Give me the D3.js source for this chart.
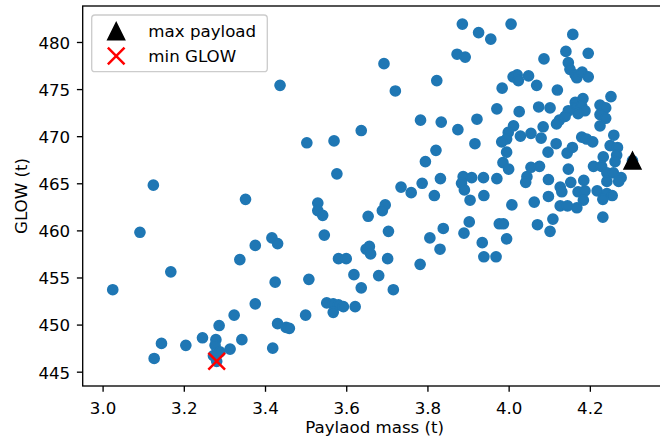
<!DOCTYPE html>
<html>
<head>
<meta charset="utf-8">
<script src="https://cdn.jsdelivr.net/npm/d3@7"></script>
<style>
  html, body { margin: 0; padding: 0; background: #fff; }
  svg { display: block; font-family: "DejaVu Sans", sans-serif; }
</style>
</head>
<body>
<svg id="chart" width="660" height="442"></svg>
<script>
// ---- data ----
const payload = [
  3.886, 3.926, 3.956, 4.006, 4.158, 4.141, 4.196, 4.087, 3.873, 3.893,
  3.693, 3.823, 3.721, 4.147, 4.151, 4.164, 4.168, 4.181, 4.196, 4.011,
  4.021, 4.024, 4.049, 4.069, 3.984, 4.120, 4.252, 3.437, 3.971, 4.026,
  4.074, 4.102, 4.164, 4.183, 4.164, 4.180, 4.188, 4.171, 4.147, 4.139,
  4.125, 4.118, 4.225, 4.239, 4.225, 4.239, 4.225, 3.783, 3.834, 3.922,
  3.875, 3.637, 3.570, 3.503, 3.917, 3.821, 3.795, 4.012, 3.999, 3.995,
  3.983, 4.029, 4.055, 4.085, 4.080, 4.117, 4.097, 4.144, 4.157, 4.180,
  4.192, 4.207, 4.259, 4.250, 4.268, 4.266, 4.262, 4.233, 3.995, 3.986,
  4.000, 4.055, 4.076, 4.147, 4.209, 4.229, 4.242, 4.258, 4.277, 4.242,
  4.271, 4.045, 4.042, 4.098, 4.153, 4.185, 4.127, 4.131, 4.098, 4.171,
  4.188, 4.218, 4.242, 4.255, 4.184, 4.232, 4.127, 4.145, 4.168, 4.063,
  4.008, 4.232, 4.109, 4.102, 4.071, 3.977, 3.987, 3.995, 3.935, 3.939,
  3.969, 3.903, 3.890, 3.839, 3.806, 3.831, 3.782, 3.888, 3.909, 3.938,
  3.971, 3.884, 3.891, 3.905, 3.939, 3.832, 3.787, 3.735, 3.760, 3.817,
  3.696, 3.689, 3.654, 3.577, 3.530, 3.530, 3.542, 3.352, 3.125, 3.704,
  3.546, 3.417, 3.431, 3.092, 3.025, 3.168, 3.338, 3.376, 3.425, 3.508,
  3.581, 3.600, 3.649, 3.657, 3.660, 3.702, 3.619, 3.680, 3.637, 3.716,
  3.552, 3.568, 3.581, 3.593, 3.622, 3.568, 3.500, 3.431, 3.452, 3.460,
  3.376, 3.324, 3.287, 3.246, 3.279, 3.277, 3.289, 3.273, 3.343, 3.314,
  3.419, 3.205, 3.145, 3.127, 3.281, 4.305
];
const glow = [
  481.9, 481.0, 480.3, 481.9, 480.8, 479.0, 478.8, 478.2, 478.7, 478.4,
  477.7, 475.9, 474.8, 477.8, 477.1, 476.5, 476.2, 476.8, 476.3, 476.3,
  476.5, 475.9, 476.4, 475.4, 475.1, 474.9, 474.2, 475.4, 472.9, 472.6,
  473.1, 473.0, 473.6, 474.0, 473.0, 473.2, 472.7, 472.4, 472.7, 472.1,
  471.7, 471.3, 473.3, 473.0, 472.3, 471.9, 471.1, 471.7, 471.5, 471.8,
  470.7, 470.6, 469.5, 469.3, 469.2, 468.5, 467.3, 471.1, 470.4, 469.7,
  469.4, 470.0, 470.3, 471.0, 469.8, 469.2, 468.3, 468.2, 468.8, 469.9,
  469.7, 469.4, 470.1, 469.0, 468.8, 468.0, 467.3, 467.8, 468.3, 467.2,
  466.5, 466.7, 466.8, 466.5, 466.8, 466.8, 466.1, 466.1, 465.6, 465.2,
  465.2, 465.7, 465.1, 465.4, 465.1, 465.3, 464.6, 464.1, 463.6, 464.1,
  464.2, 464.2, 463.9, 463.7, 463.2, 463.3, 462.6, 462.6, 462.4, 463.0,
  462.7, 461.4, 461.2, 459.9, 460.6, 460.7, 460.7, 459.1, 458.7, 457.2,
  457.2, 460.9, 459.7, 460.2, 459.2, 458.0, 456.4, 465.7, 465.6, 465.6,
  465.5, 465.0, 464.3, 463.2, 463.7, 465.5, 465.0, 464.6, 464.0, 463.7,
  462.7, 462.1, 461.5, 466.0, 462.9, 462.1, 461.6, 463.3, 464.8, 459.9,
  459.5, 459.2, 458.6, 459.8, 453.7, 455.6, 456.9, 458.4, 454.5, 454.8,
  457.0, 457.0, 458.0, 458.3, 457.5, 457.0, 455.3, 455.2, 453.9, 453.7,
  452.3, 452.2, 452.1, 451.9, 451.9, 451.3, 451.0, 450.1, 449.7, 449.6,
  452.2, 451.0, 449.9, 448.6, 448.4, 447.8, 447.1, 446.7, 448.4, 447.4,
  447.5, 447.8, 448.0, 446.4, 446.1, 467.4
];
const xTicks = [3.0, 3.2, 3.4, 3.6, 3.8, 4.0, 4.2];
const yTicks = [445, 450, 455, 460, 465, 470, 475, 480];
const xLabel = "Paylaod mass (t)";
const yLabel = "GLOW (t)";
const legendLabels = ["max payload", "min GLOW"];

// ---- drawing ----
const svg = d3.select("#chart");
const FS = 16.67;
const blue = "#1f77b4";
const ax = { left: 82.7, top: 6, right: 667, bottom: 386 };

const x = d3.scaleLinear().domain([2.951, 4.390]).range([ax.left, ax.right]);
const y = d3.scaleLinear().domain([443.48, 483.82]).range([ax.bottom, ax.top]);

const n = Math.min(payload.length, glow.length);
const pts = d3.range(n).map(i => ({ x: payload[i], y: glow[i] }));
const iMax = d3.maxIndex(pts, d => d.x);
const iMin = d3.minIndex(pts, d => d.y);

// scatter
svg.append("g").selectAll("circle").data(pts).join("circle")
  .attr("cx", d => x(d.x)).attr("cy", d => y(d.y))
  .attr("r", 5.0).attr("fill", blue)
  .attr("stroke", blue).attr("stroke-width", 1.67);

const triPath = "M0,-8.33L-8.33,8.33L8.33,8.33Z";
function drawTri(g, cx, cy) {
  g.append("path").attr("d", triPath)
    .attr("transform", `translate(${cx},${cy})`)
    .attr("fill", "#000").attr("stroke", "#000")
    .attr("stroke-width", 1.67).attr("stroke-linejoin", "miter");
}
function drawX(g, cx, cy) {
  g.append("path").attr("d", "M-8.33,-8.33L8.33,8.33M-8.33,8.33L8.33,-8.33")
    .attr("transform", `translate(${cx},${cy})`)
    .attr("fill", "none").attr("stroke", "#ff0000").attr("stroke-width", 2.5);
}
const marks = svg.append("g");
drawTri(marks, x(pts[iMax].x), y(pts[iMax].y));
drawX(marks, x(pts[iMin].x), y(pts[iMin].y));

// axes
const gx = svg.append("g").attr("transform", `translate(0,${ax.bottom})`)
  .call(d3.axisBottom(x).tickValues(xTicks).tickSize(5.8).tickSizeOuter(0)
    .tickFormat(d3.format(".1f")));
gx.select(".domain").remove();
gx.selectAll(".tick line").attr("stroke", "#000").attr("stroke-width", 1.33);
gx.selectAll(".tick text").attr("y", 28).attr("dy", 0)
  .attr("font-size", FS).attr("fill", "#000")
  .attr("font-family", "DejaVu Sans");

const gy = svg.append("g").attr("transform", `translate(${ax.left},0)`)
  .call(d3.axisLeft(y).tickValues(yTicks).tickSize(5.8).tickSizeOuter(0)
    .tickFormat(d3.format("d")));
gy.select(".domain").remove();
gy.selectAll(".tick line").attr("stroke", "#000").attr("stroke-width", 1.33);
gy.selectAll(".tick text").attr("x", -12.5).attr("dy", "0.38em")
  .attr("font-size", FS).attr("fill", "#000")
  .attr("font-family", "DejaVu Sans");

// frame (spines)
svg.append("rect")
  .attr("x", ax.left).attr("y", ax.top)
  .attr("width", ax.right - ax.left).attr("height", ax.bottom - ax.top)
  .attr("fill", "none").attr("stroke", "#000").attr("stroke-width", 1.33);

// axis labels
svg.append("text").attr("x", 374.7).attr("y", 433)
  .attr("text-anchor", "middle").attr("font-size", FS).attr("fill", "#000")
  .text(xLabel);
svg.append("text")
  .attr("transform", "translate(27,196) rotate(-90)")
  .attr("text-anchor", "middle").attr("font-size", FS).attr("fill", "#000")
  .text(yLabel);

// legend
const lg = svg.append("g");
lg.append("rect").attr("x", 91.7).attr("y", 15).attr("width", 175.6).attr("height", 56.7)
  .attr("rx", 3.3).attr("ry", 3.3)
  .attr("fill", "#fff").attr("fill-opacity", 0.8)
  .attr("stroke", "#cccccc").attr("stroke-width", 1.33);
drawTri(lg, 116.2, 31.3);
drawX(lg, 116.2, 56);
lg.append("text").attr("x", 148.3).attr("y", 37).attr("font-size", FS).attr("fill", "#000")
  .text(legendLabels[0]);
lg.append("text").attr("x", 148.3).attr("y", 62).attr("font-size", FS).attr("fill", "#000")
  .text(legendLabels[1]);
</script>
</body>
</html>
